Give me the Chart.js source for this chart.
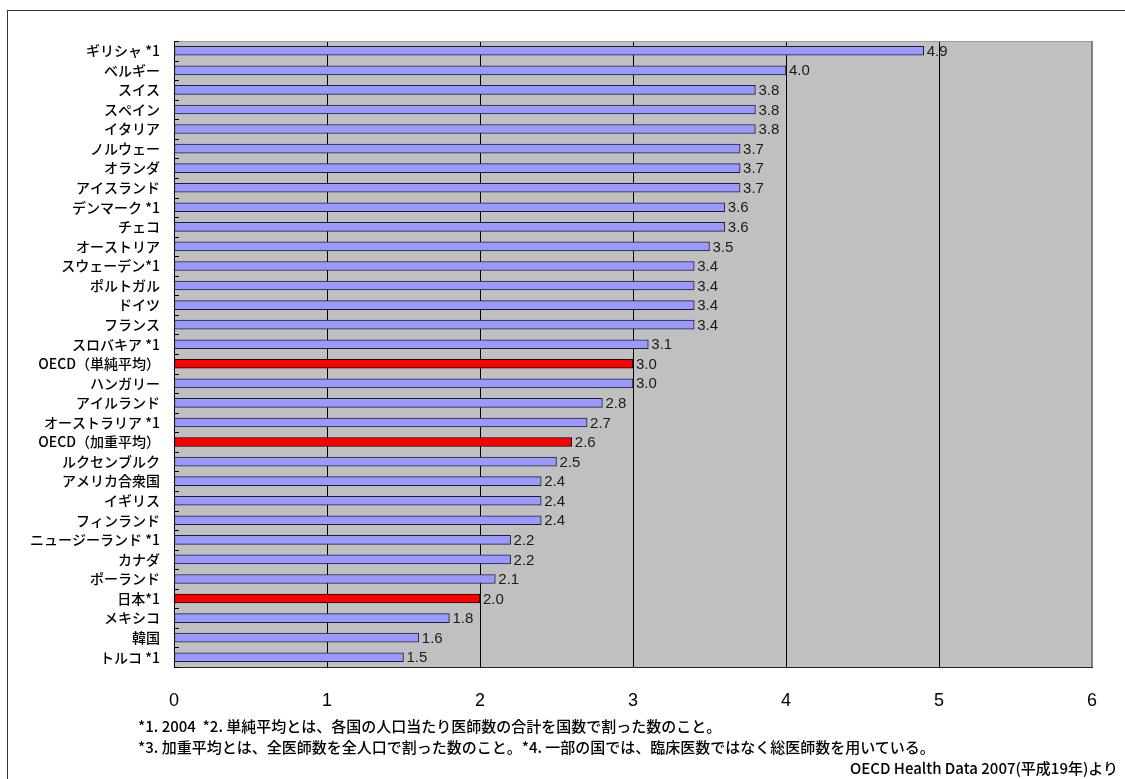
<!DOCTYPE html>
<html lang="ja">
<head>
<meta charset="utf-8">
<title>人口千人当たり医師数（OECD諸国）</title>
<script src="https://cdn.jsdelivr.net/npm/chart.js@4/dist/chart.umd.min.js"></script>
<style>
  html, body { margin: 0; padding: 0; background: #fff; }
  #wrap { position: relative; width: 1125px; height: 779px; overflow: hidden; background: #fff; }
  #frame { position: absolute; left: 7px; top: 10px; width: 1300px; height: 900px; border: 1px solid #303030; box-sizing: border-box; }
  canvas { position: absolute; left: 0; top: 0; }
  .note { position: absolute; font-family: "Noto Sans CJK JP", sans-serif; font-weight: 500; font-size: 15px; line-height: 20px; color: #000; white-space: nowrap; }
</style>
</head>
<body>
<div id="wrap">
  <div id="frame"></div>
  <canvas id="chart" width="1125" height="779"></canvas>
  <div class="note" style="left:138px; top:716px;">*1. 2004&nbsp;&nbsp;*2. 単純平均とは、各国の人口当たり医師数の合計を国数で割った数のこと。</div>
  <div class="note" style="left:138px; top:737px;">*3. 加重平均とは、全医師数を全人口で割った数のこと。*4. 一部の国では、臨床医数ではなく総医師数を用いている。</div>
  <div class="note" style="right:7px; top:758px;">OECD Health Data 2007(平成19年)より</div>
</div>
<script>
// 国名（上から順）
const countries = [
  'ギリシャ *1', 'ベルギー', 'スイス', 'スペイン', 'イタリア', 'ノルウェー', 'オランダ', 'アイスランド',
  'デンマーク *1', 'チェコ', 'オーストリア', 'スウェーデン*1', 'ポルトガル', 'ドイツ', 'フランス',
  'スロバキア *1', 'OECD（単純平均）', 'ハンガリー', 'アイルランド', 'オーストラリア *1',
  'OECD（加重平均）', 'ルクセンブルク', 'アメリカ合衆国', 'イギリス', 'フィンランド',
  'ニュージーランド *1', 'カナダ', 'ポーランド', '日本*1', 'メキシコ', '韓国', 'トルコ *1'
];
// 人口千人当たり医師数
const doctorsPer1000 = [
  4.9, 4.0, 3.8, 3.8, 3.8, 3.7, 3.7, 3.7,
  3.6, 3.6, 3.5, 3.4, 3.4, 3.4, 3.4,
  3.1, 3.0, 3.0, 2.8, 2.7,
  2.6, 2.5, 2.4, 2.4, 2.4,
  2.2, 2.2, 2.1, 2.0, 1.8, 1.6, 1.5
];
// 赤で強調する項目
const highlighted = ['OECD（単純平均）', 'OECD（加重平均）', '日本*1'];
// 横軸の目盛
const axisTicks = [0, 1, 2, 3, 4, 5, 6];

const barColors = countries.map(c => highlighted.includes(c) ? '#FF0000' : '#9999FF');
const barBorders = countries.map(c => highlighted.includes(c) ? '#000000' : '#20202c');

const narrow = '"Liberation Sans Narrow", "Arial Narrow", "Liberation Sans", sans-serif';

// グラフ領域の背景と枠
const plotBackground = {
  id: 'plotBackground',
  beforeDraw(chart) {
    const { ctx, chartArea: a } = chart;
    ctx.save();
    ctx.fillStyle = '#C0C0C0';
    ctx.fillRect(a.left, a.top, a.right - a.left, a.bottom - a.top);
    ctx.restore();
  },
  afterDraw(chart) {
    const { ctx, chartArea: a } = chart;
    ctx.save();
    ctx.strokeStyle = '#9a9a9a';
    ctx.lineWidth = 1;
    ctx.beginPath();
    ctx.moveTo(a.left, a.top + 0.5);
    ctx.lineTo(a.right, a.top + 0.5);
    ctx.stroke();
    ctx.strokeStyle = '#808080';
    ctx.lineWidth = 2;
    ctx.beginPath();
    ctx.moveTo(a.right, a.top);
    ctx.lineTo(a.right, a.bottom);
    ctx.stroke();
    // 縦軸の内向き目盛（区分の境界）
    const y = chart.scales.y;
    const n = countries.length;
    const step = y.getPixelForValue(1) - y.getPixelForValue(0);
    ctx.strokeStyle = '#000';
    ctx.lineWidth = 1;
    ctx.beginPath();
    for (let i = 0; i <= n; i++) {
      const py = Math.round(y.getPixelForValue(i) - step / 2) + 0.5;
      ctx.moveTo(a.left, py);
      ctx.lineTo(a.left + 5, py);
    }
    ctx.stroke();
    ctx.restore();
  }
};

// 棒の右に数値を表示
const valueLabels = {
  id: 'valueLabels',
  afterDatasetsDraw(chart) {
    const { ctx } = chart;
    const meta = chart.getDatasetMeta(0);
    ctx.save();
    ctx.font = '15px ' + narrow;
    ctx.fillStyle = '#1a1a1a';
    ctx.textAlign = 'left';
    ctx.textBaseline = 'middle';
    meta.data.forEach((bar, i) => {
      ctx.fillText(doctorsPer1000[i].toFixed(1), bar.x + 3, bar.y + 1);
    });
    ctx.restore();
  }
};

new Chart(document.getElementById('chart'), {
  type: 'bar',
  data: {
    labels: countries,
    datasets: [{
      data: doctorsPer1000,
      backgroundColor: barColors,
      borderColor: barBorders,
      borderWidth: 1,
      borderSkipped: false,
      barThickness: 9
    }]
  },
  options: {
    indexAxis: 'y',
    responsive: false,
    animation: false,
    layout: { padding: { top: 41, right: 33, left: 0, bottom: 0 } },
    plugins: { legend: { display: false }, tooltip: { enabled: false } },
    scales: {
      x: {
        min: axisTicks[0],
        max: axisTicks[axisTicks.length - 1],
        afterBuildTicks(scale) { scale.ticks = axisTicks.map(v => ({ value: v })); },
        afterFit(scale) { scale.height = 112; },
        ticks: { padding: 23, color: '#000', font: { family: narrow, size: 18 } },
        grid: {
          drawTicks: false,
          lineWidth: 1,
          color: ctx => (ctx.tick && ctx.tick.value > 0 && ctx.tick.value < 6) ? '#000' : 'rgba(0,0,0,0)'
        },
        border: { display: true, color: '#222', width: 1 }
      },
      y: {
        afterFit(scale) { scale.width = 174; },
        ticks: {
          padding: 14,
          color: '#000',
          autoSkip: false,
          font: { family: '"Noto Sans CJK JP", sans-serif', size: 14, weight: '500' }
        },
        grid: { display: false, drawTicks: false },
        border: { display: true, color: '#000', width: 1 }
      }
    }
  },
  plugins: [plotBackground, valueLabels]
});
</script>
</body>
</html>
